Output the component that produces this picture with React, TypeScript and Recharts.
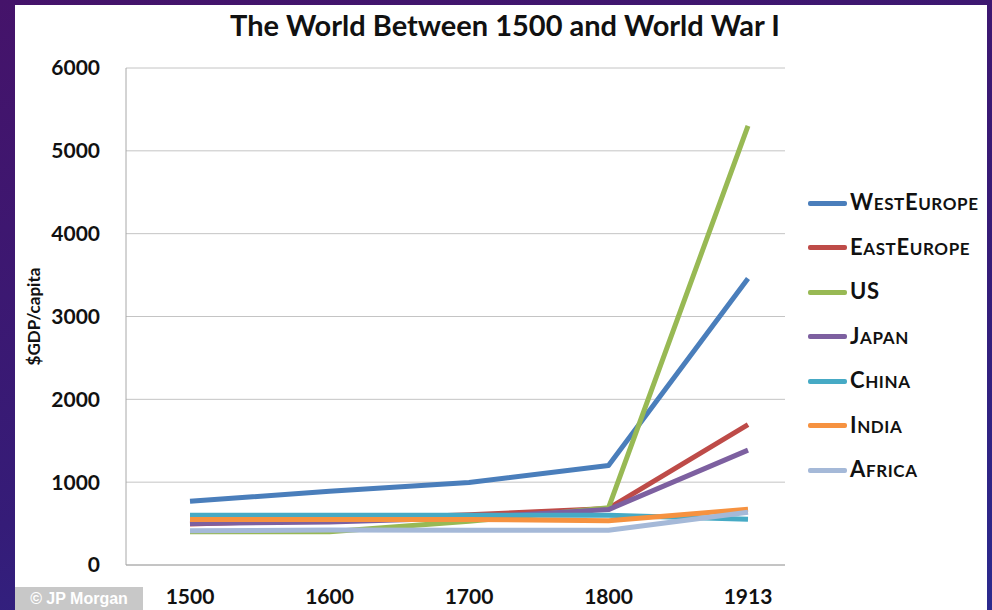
import { CartesianGrid, Label, Line, LineChart, XAxis, YAxis } from 'recharts';

const years = ['1500', '1600', '1700', '1800', '1913'];
const westEurope = [771, 889, 997, 1202, 3458];
const eastEurope = [496, 548, 606, 683, 1695];
const us = [400, 400, 527, 690, 5301];
const japan = [500, 520, 570, 669, 1387];
const china = [600, 600, 600, 600, 552];
const india = [550, 550, 550, 533, 673];
const africa = [414, 422, 421, 420, 637];
const yTicks = [0, 1000, 2000, 3000, 4000, 5000, 6000];

const series = [
  { key: 'westEurope', name: 'WestEurope', values: westEurope, color: '#4a7ebb' },
  { key: 'eastEurope', name: 'EastEurope', values: eastEurope, color: '#be4b48' },
  { key: 'us', name: 'US', values: us, color: '#98b954' },
  { key: 'japan', name: 'Japan', values: japan, color: '#7d60a0' },
  { key: 'china', name: 'China', values: china, color: '#46aac5' },
  { key: 'india', name: 'India', values: india, color: '#f69240' },
  { key: 'africa', name: 'Africa', values: africa, color: '#a5b9d8' },
];

const data = years.map((year, i) => {
  const row: Record<string, string | number> = { year };
  series.forEach((s) => {
    row[s.key] = s.values[i];
  });
  return row;
});

const font = 'Lato, "Open Sans", sans-serif';

// Excel-style small caps: capitals stay big, lower case drawn as smaller capitals
const SmallCaps = ({ text }: { text: string }) => (
  <>
    {text.split('').map((ch, i) =>
      ch === ch.toUpperCase() ? (
        <span key={i} style={{ fontSize: 22 }}>
          {ch}
        </span>
      ) : (
        <span key={i} style={{ fontSize: 17 }}>
          {ch.toUpperCase()}
        </span>
      ),
    )}
  </>
);

const LegendBox = () => (
  <div
    style={{
      fontFamily: font,
      left: 808,
      position: 'absolute',
      top: 181,
    }}
  >
    {series.map((s) => (
      <div
        key={s.key}
        style={{ alignItems: 'center', display: 'flex', height: 44.5 }}
      >
        <div
          style={{
            background: s.color,
            borderRadius: 2,
            height: 5,
            marginRight: 3,
            width: 39,
          }}
        />
        <span
          style={{
            color: '#111',
            fontWeight: 700,
            letterSpacing: 0.6,
            lineHeight: '24px',
          }}
        >
          <SmallCaps text={s.name} />
        </span>
      </div>
    ))}
  </div>
);

const YTitle = (props: any) => {
  const vb = props.viewBox || {};
  const cy = (vb.y ?? 68) + (vb.height ?? 497) / 2;
  const x = 40;
  return (
    <text
      fill="#111"
      fontFamily={font}
      fontSize={17}
      fontWeight={700}
      textAnchor="middle"
      transform={`rotate(-90 ${x} ${cy})`}
      x={x}
      y={cy}
    >
      $GDP/capita
    </text>
  );
};

export default function App() {
  return (
    <div
      style={{
        background: 'linear-gradient(165deg, #45136a 0%, #351c78 60%, #2b2a8e 100%)',
        height: 610,
        left: 0,
        overflow: 'hidden',
        position: 'absolute',
        top: 0,
        width: 992,
      }}
    >
      <div
        style={{
          background: '#fff',
          height: 605,
          left: 15,
          position: 'absolute',
          top: 5,
          width: 972,
        }}
      />
      <div
        style={{
          color: '#111',
          fontFamily: font,
          fontSize: 29,
          fontWeight: 700,
          left: 0,
          position: 'absolute',
          textAlign: 'center',
          top: 7,
          width: 1010,
        }}
      >
        The World Between 1500 and World War I
      </div>
      <div style={{ left: 0, position: 'absolute', top: 0 }}>
        <LineChart
          data={data}
          height={610}
          margin={{ bottom: 15, left: 0, right: 207, top: 68 }}
          width={992}
        >
          <CartesianGrid stroke="#c4c4c4" vertical={false} />
          <XAxis
            axisLine={{ stroke: '#a8a8a8' }}
            dataKey="year"
            height={30}
            padding={{ left: 64, right: 37 }}
            tick={{ fill: '#111', fontFamily: font, fontSize: 21, fontWeight: 700 }}
            tickLine={false}
            tickMargin={24}
            tickSize={0}
          />
          <YAxis
            axisLine={{ stroke: '#a8a8a8' }}
            domain={[0, 6000]}
            tick={{ fill: '#111', fontFamily: font, fontSize: 21, fontWeight: 700 }}
            tickLine={false}
            tickMargin={26}
            tickSize={0}
            ticks={yTicks}
            width={126}
          >
            <Label content={YTitle} />
          </YAxis>
          {series.map((s) => (
            <Line
              dataKey={s.key}
              dot={false}
              isAnimationActive={false}
              key={s.key}
              name={s.name}
              stroke={s.color}
              strokeLinejoin="round"
              strokeWidth={5}
              type="linear"
            />
          ))}
        </LineChart>
      </div>
      <LegendBox />
      <div
        style={{
          background: '#c8c8c8',
          color: '#fff',
          fontFamily: 'Arial, "Liberation Sans", sans-serif',
          fontSize: 16,
          fontWeight: 700,
          height: 23,
          left: 15,
          lineHeight: '23px',
          position: 'absolute',
          textAlign: 'center',
          top: 587,
          width: 128,
        }}
      >
        © JP Morgan
      </div>
    </div>
  );
}
